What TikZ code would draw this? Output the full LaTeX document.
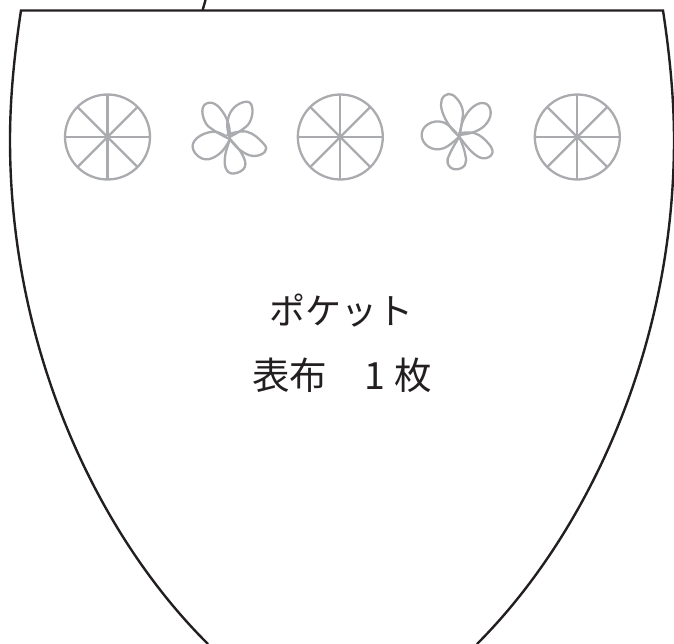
\documentclass[tikz,border=0pt]{standalone}
\usepackage{fontspec}
\newfontfamily\jpfont{Noto Sans CJK JP}
\definecolor{markgray}{HTML}{A9ABAE}
\definecolor{ink}{HTML}{231F20}
\tikzset{
  markline/.style={draw=markgray,line width=2.3pt,line join=round},
  petalline/.style={markline,smooth,tension=0.7},
  outline/.style={draw=ink,line width=2.4pt,line join=miter},
  caption/.style={font=\jpfont\fontsize{36}{36}\selectfont,text=ink,inner sep=0pt,anchor=center},
  captionb/.style={font=\jpfont\fontsize{37.5}{37.5}\selectfont,text=ink,inner sep=0pt,anchor=center}
}
\newcommand{\wheel}[2]{
  \draw[markline] (#1,#2) circle (42.5);
  \foreach \a in {0,45,...,315}{\draw[markline] (#1,#2) -- ++(\a:42.5);}
}
\begin{document}
\begin{tikzpicture}[x=1pt,y=-1pt]
\useasboundingbox (0,0) rectangle (674,644);
\clip (0,0) rectangle (674,644);
\draw[outline] (202.5,10.5) -- (205.5,0);
\draw[outline] (208,644) .. controls (98,535) and (10,350) .. (10,140) .. controls (10,95) and (15,50) .. (21,10.5) -- (663,10.5) .. controls (669,50) and (674,95) .. (674,140) .. controls (674,350) and (586,535) .. (477,644);
\wheel{107.5}{137}
\wheel{340.3}{137}
\wheel{577.3}{137}
\begin{scope}[shift={(50,80)},x=0.3333pt,y=-0.3333pt]
\draw[markline] plot[smooth,tension=0.7] coordinates {(540,178) (535,130) (510,85) (480,68) (458,85) (465,125) (490,150) (540,178)};
\draw[markline] plot[smooth,tension=0.7] coordinates {(540,178) (532,130) (550,85) (590,65) (607,85) (600,125) (575,150) (540,170)};
\draw[markline] plot[smooth,tension=0.7] coordinates {(530,165) (590,155) (640,190) (645,215) (610,228) (570,210) (540,178)};
\draw[markline] plot[smooth,tension=0.7] coordinates {(540,178) (525,230) (530,270) (555,280) (585,260) (575,220) (540,178)};
\draw[markline] plot[smooth,tension=0.7] coordinates {(530,170) (490,155) (440,175) (430,210) (465,238) (510,220) (540,178)};
\end{scope}
\begin{scope}[shift={(280,80)},x=0.3333pt,y=-0.3333pt]
\draw[markline] plot[smooth,tension=0.7] coordinates {(538,170) (545,130) (548,90) (530,55) (505,42) (485,60) (487,95) (510,140) (538,170)};
\draw[markline] plot[smooth,tension=0.7] coordinates {(538,170) (550,120) (580,80) (615,70) (632,95) (620,130) (585,155) (538,165)};
\draw[markline] plot[smooth,tension=0.7] coordinates {(535,160) (585,160) (625,190) (637,220) (610,235) (575,215) (538,170)};
\draw[markline] plot[smooth,tension=0.7] coordinates {(538,170) (510,220) (503,250) (525,268) (555,255) (555,220) (538,170)};
\draw[markline] plot[smooth,tension=0.7] coordinates {(530,160) (490,127) (445,132) (425,165) (445,200) (490,205) (538,170)};
\end{scope}
\node[caption] (title) at (341,310.5) {ポケット};
\node[captionb] (sub) at (342,375) {表布　1 枚};
\end{tikzpicture}
\end{document}
